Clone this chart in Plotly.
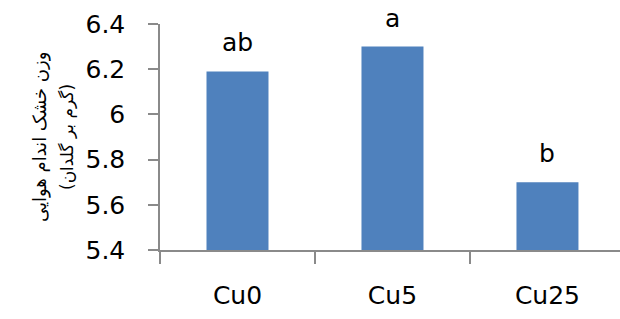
import plotly.graph_objects as go

categories = ["Cu0", "Cu5", "Cu25"]
values = [6.19, 6.30, 5.70]
letters = ["ab", "a", "b"]
y_ticks = [5.4, 5.6, 5.8, 6.0, 6.2, 6.4]
y_title_line1 = "وزن خشک اندام هوایی"
y_title_line2 = "(گرم بر گلدان)"

AXIS = "#8a8a8a"
FONT = "DejaVu Sans"

fig = go.Figure()
fig.add_trace(go.Bar(
    x=categories, y=values, width=0.4,
    marker=dict(color="#4F81BD", line=dict(width=0)),
))

for c, v, t in zip(categories, values, letters):
    fig.add_annotation(x=c, y=v, text=t, showarrow=False, yanchor="bottom",
                       yshift=12, font=dict(family=FONT, size=25, color="black"))

fig.add_annotation(xref="paper", yref="paper", x=0, y=0.5, xshift=-133,
                   text=y_title_line1, textangle=-90, showarrow=False,
                   font=dict(family=FONT, size=18, color="black"))
fig.add_annotation(xref="paper", yref="paper", x=0, y=0.5, xshift=-105,
                   text=y_title_line2, textangle=-90, showarrow=False,
                   font=dict(family=FONT, size=17, color="black"))

fig.update_layout(
    width=620, height=319,
    margin=dict(l=160, r=0, t=24, b=69),
    paper_bgcolor="white", plot_bgcolor="white",
    showlegend=False,
    font=dict(family=FONT, size=25, color="black"),
    xaxis=dict(
        range=[-0.5, 2.468], tickson="boundaries", ticks="outside", ticklen=12,
        tickwidth=1.5, tickcolor=AXIS, showline=True, linecolor=AXIS, linewidth=1.5,
        showgrid=False, ticklabelstandoff=22, tickfont=dict(size=25), automargin=False,
    ),
    yaxis=dict(
        range=[5.4, 6.4], tickvals=y_ticks, ticktext=[f"{v:g}" for v in y_ticks],
        ticks="outside", ticklen=10, tickwidth=1.5, tickcolor=AXIS,
        showline=True, linecolor=AXIS, linewidth=1.5, showgrid=False, zeroline=False,
        ticklabelstandoff=18, tickfont=dict(size=25), automargin=False,
    ),
)

fig.write_html("out.html", config={"displayModeBar": False},
               post_script="document.body.style.margin='0';")
